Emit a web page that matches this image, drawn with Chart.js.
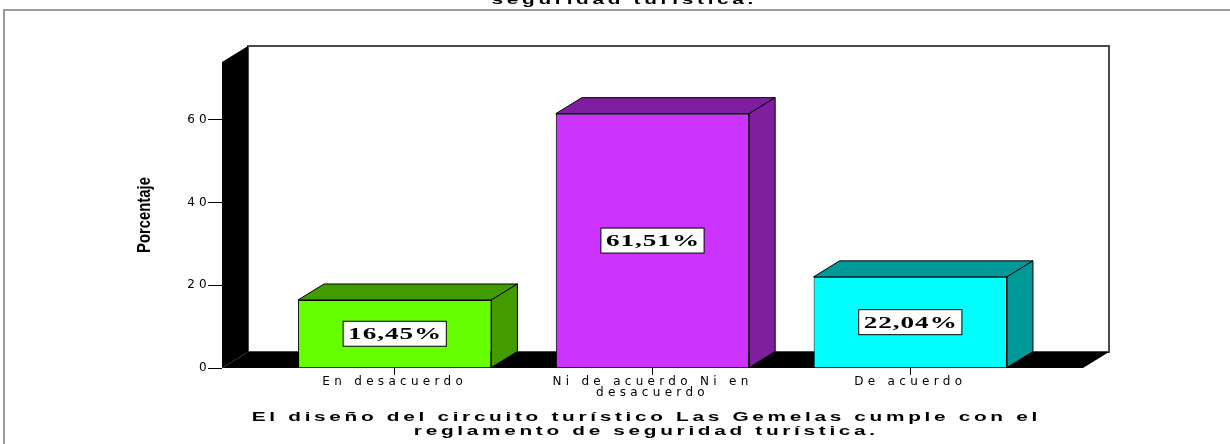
<!DOCTYPE html>
<html>
<head>
<meta charset="utf-8">
<script src="https://cdn.jsdelivr.net/npm/chart.js@4.4.0/dist/chart.umd.min.js"></script>
<style>
  html, body { margin: 0; padding: 0; background: #fff; }
  #wrap { position: relative; width: 1230px; height: 444px; }
</style>
</head>
<body>
<div id="wrap"><canvas id="chart"></canvas></div>
<script>
// values
const categories = ["En desacuerdo", ["Ni de acuerdo Ni en", "desacuerdo"], "De acuerdo"];
const percentages = [16.45, 61.51, 22.04];
const yTicks = [0, 20, 40, 60];
const frontColors = ["#66ff00", "#cc33ff", "#00ffff"];
const sideColors = ["#429c00", "#7f1f9f", "#009999"];
const topCaption = "seguridad turística.";
const xTitle = ["El diseño del circuito turístico Las Gemelas cumple con el", "reglamento de seguridad turística."];
const yTitle = "Porcentaje";

// depth of the fake 3D
const DX = 26, DY = 16;

function poly(ctx, pts, fill, stroke) {
  ctx.beginPath();
  pts.forEach((p, i) => i ? ctx.lineTo(p[0], p[1]) : ctx.moveTo(p[0], p[1]));
  ctx.closePath();
  ctx.fillStyle = fill;
  ctx.fill();
  if (stroke) { ctx.strokeStyle = stroke; ctx.lineWidth = 1; ctx.stroke(); }
}

// the SPSS export is stretched sideways, so stretch the text too
function wideText(ctx, text, cx, y, sx, spacing) {
  ctx.save();
  ctx.letterSpacing = spacing + "px";
  const w = (ctx.measureText(text).width - spacing) * sx;
  ctx.translate(cx - w / 2, y);
  ctx.scale(sx, 1);
  ctx.fillText(text, 0, 0);
  ctx.restore();
  return w;
}

const depthPlugin = {
  id: "depth",
  beforeDraw(chart) {
    const ctx = chart.ctx;
    ctx.save();
    ctx.strokeStyle = "#9a9a9a";
    ctx.lineWidth = 2;
    ctx.beginPath();
    ctx.moveTo(4, chart.height);
    ctx.lineTo(4, 10);
    ctx.lineTo(chart.width, 10);
    ctx.stroke();
    ctx.restore();
    // wide tick text
    ctx.letterSpacing = "4.3px";
  },
  beforeDatasetsDraw(chart) {
    const { ctx, chartArea: a } = chart;
    ctx.save();
    // back wall
    ctx.fillStyle = "#fff";
    ctx.fillRect(a.left + DX, a.top - DY, a.width, a.height);
    ctx.strokeStyle = "#4a4a4a";
    ctx.lineWidth = 2;
    ctx.strokeRect(a.left + DX, a.top - DY, a.width, a.height);
    // left wall and floor
    poly(ctx, [[a.left, a.top], [a.left + DX, a.top - DY], [a.left + DX, a.bottom - DY], [a.left, a.bottom]], "#000");
    poly(ctx, [[a.left, a.bottom], [a.left + DX, a.bottom - DY], [a.right + DX, a.bottom - DY], [a.right, a.bottom]], "#000");
    ctx.restore();
  },
  afterDatasetsDraw(chart) {
    const ctx = chart.ctx;
    const meta = chart.getDatasetMeta(0);
    ctx.save();
    meta.data.forEach((bar, i) => {
      const { x, y, base, width } = bar.getProps(["x", "y", "base", "width"], true);
      const l = x - width / 2, r = x + width / 2;
      poly(ctx, [[l, y], [l + DX, y - DY], [r + DX, y - DY], [r, y]], sideColors[i], "#000");
      poly(ctx, [[r, y], [r + DX, y - DY], [r + DX, base - DY], [r, base]], sideColors[i], "#000");

      // value label box
      const text = percentages[i].toFixed(2).replace(".", ",") + "%";
      ctx.font = "bold 17px 'Liberation Serif', serif";
      ctx.letterSpacing = "0.6px";
      const tw = (ctx.measureText(text).width - 0.6) * 1.6;
      const my = (y + base) / 2;
      ctx.fillStyle = "#fff";
      ctx.fillRect(x - tw / 2 - 5, my - 12.5, tw + 10, 25);
      ctx.strokeStyle = "#000";
      ctx.lineWidth = 1;
      ctx.strokeRect(x - tw / 2 - 5, my - 12.5, tw + 10, 25);
      ctx.fillStyle = "#000";
      ctx.textBaseline = "middle";
      wideText(ctx, text, x, my + 1, 1.6, 0.6);
    });
    ctx.restore();
  },
  afterDraw(chart) {
    const { ctx, chartArea: a } = chart;
    const cx = (a.left + a.right) / 2 - 8;
    ctx.save();
    ctx.fillStyle = "#000";
    ctx.textAlign = "left";
    ctx.textBaseline = "alphabetic";
    ctx.font = "bold 13px 'Liberation Sans', Arial, sans-serif";
    wideText(ctx, topCaption, cx - 22, 4, 1.6, 2.3);
    xTitle.forEach((line, k) => wideText(ctx, line, cx, a.bottom + 53 + k * 13.5, 1.6, 2.3));

    ctx.letterSpacing = "0px";
    ctx.translate(a.left - 77, (a.top + a.bottom) / 2);
    ctx.rotate(-Math.PI / 2);
    ctx.scale(0.78, 1);
    ctx.textAlign = "center";
    ctx.textBaseline = "middle";
    ctx.font = "bold 19px 'Liberation Sans', Arial, sans-serif";
    ctx.fillText(yTitle, 0, 0);
    ctx.restore();
  }
};

const tickFont = { family: "'DejaVu Sans', sans-serif", size: 12, lineHeight: 0.95 };

new Chart(document.getElementById("chart"), {
  type: "bar",
  data: {
    datasets: [{
      data: percentages.map((v, i) => ({ x: i, y: v })),
      backgroundColor: frontColors,
      borderColor: "#000",
      borderWidth: 1,
      barPercentage: 0.75,
      categoryPercentage: 1
    }]
  },
  options: {
    responsive: true,
    maintainAspectRatio: false,
    animation: false,
    layout: { padding: { left: 100, right: 147, top: 62, bottom: 0 } },
    plugins: {
      legend: { display: false },
      tooltip: { enabled: false }
    },
    scales: {
      x: {
        type: "linear",
        min: -0.67,
        max: 2.67,
        offset: false,
        afterBuildTicks: s => { s.ticks = categories.map((c, i) => ({ value: i })); },
        afterFit: s => { s.height = 76; },
        ticks: {
          callback: v => categories[v],
          color: "#000",
          font: tickFont,
          padding: 1,
          maxRotation: 0,
          autoSkip: false
        },
        grid: { offset: false, drawOnChartArea: false, tickLength: 7, color: "#000" },
        border: { display: false }
      },
      y: {
        min: 0,
        max: 74,
        afterBuildTicks: s => { s.ticks = yTicks.map(v => ({ value: v })); },
        afterFit: s => { s.width = 122; },
        ticks: { color: "#000", font: tickFont, padding: -3 },
        grid: { drawOnChartArea: false, tickLength: 14, color: "#000" },
        border: { display: false }
      }
    }
  },
  plugins: [depthPlugin]
});
</script>
</body>
</html>
